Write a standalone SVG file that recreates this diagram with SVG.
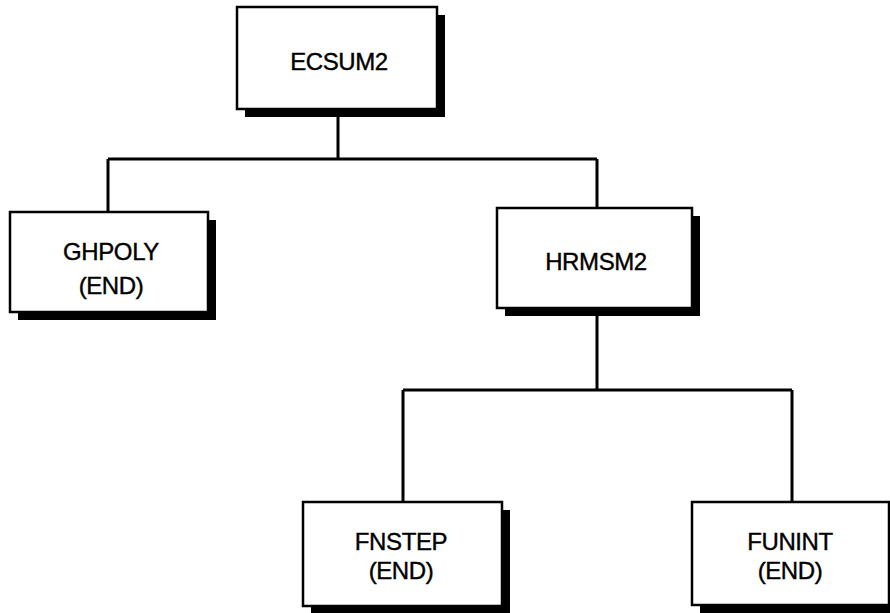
<svg xmlns="http://www.w3.org/2000/svg" width="890" height="613" viewBox="0 0 890 613">
  <style>
    .box { fill: #ffffff; stroke: #000000; stroke-width: 2.5; }
    .shadow { fill: #000000; }
    .label { font-family: "Liberation Sans", Arial, sans-serif; font-size: 24px; fill: #000000; stroke: #000000; stroke-width: 0.4; text-anchor: middle; letter-spacing: -0.4px; }
    .wire { stroke: #000000; stroke-width: 3; fill: none; }
  </style>
  <rect width="890" height="613" fill="#ffffff"/>

  <g id="connectors">
    <path class="wire" d="M338 116 V159 M108 159 H597 M108 159 V212 M597 159 V208"/>
    <path class="wire" d="M597 316 V390 M403 390 H792 M403 390 V502 M792 390 V502"/>
  </g>

  <g id="ecsum2">
    <rect class="shadow" x="245" y="15" width="200" height="102"/>
    <rect class="box" x="237" y="7" width="200" height="102"/>
    <text class="label" x="339" y="70">ECSUM2</text>
  </g>

  <g id="ghpoly">
    <rect class="shadow" x="18" y="220" width="198" height="100"/>
    <rect class="box" x="10" y="212" width="198" height="100"/>
    <text class="label" x="111" y="260">GHPOLY</text>
    <text class="label" x="111" y="294">(END)</text>
  </g>

  <g id="hrmsm2">
    <rect class="shadow" x="505" y="216" width="195" height="100"/>
    <rect class="box" x="497" y="208" width="195" height="100"/>
    <text class="label" x="596" y="270">HRMSM2</text>
  </g>

  <g id="fnstep">
    <rect class="shadow" x="311" y="510" width="199" height="104"/>
    <rect class="box" x="303" y="502" width="199" height="104"/>
    <text class="label" x="401" y="550">FNSTEP</text>
    <text class="label" x="401" y="579">(END)</text>
  </g>

  <g id="funint">
    <rect class="shadow" x="700" y="510" width="197" height="104"/>
    <rect class="box" x="692" y="502" width="197" height="103"/>
    <text class="label" x="790" y="550">FUNINT</text>
    <text class="label" x="790" y="579">(END)</text>
  </g>
</svg>
